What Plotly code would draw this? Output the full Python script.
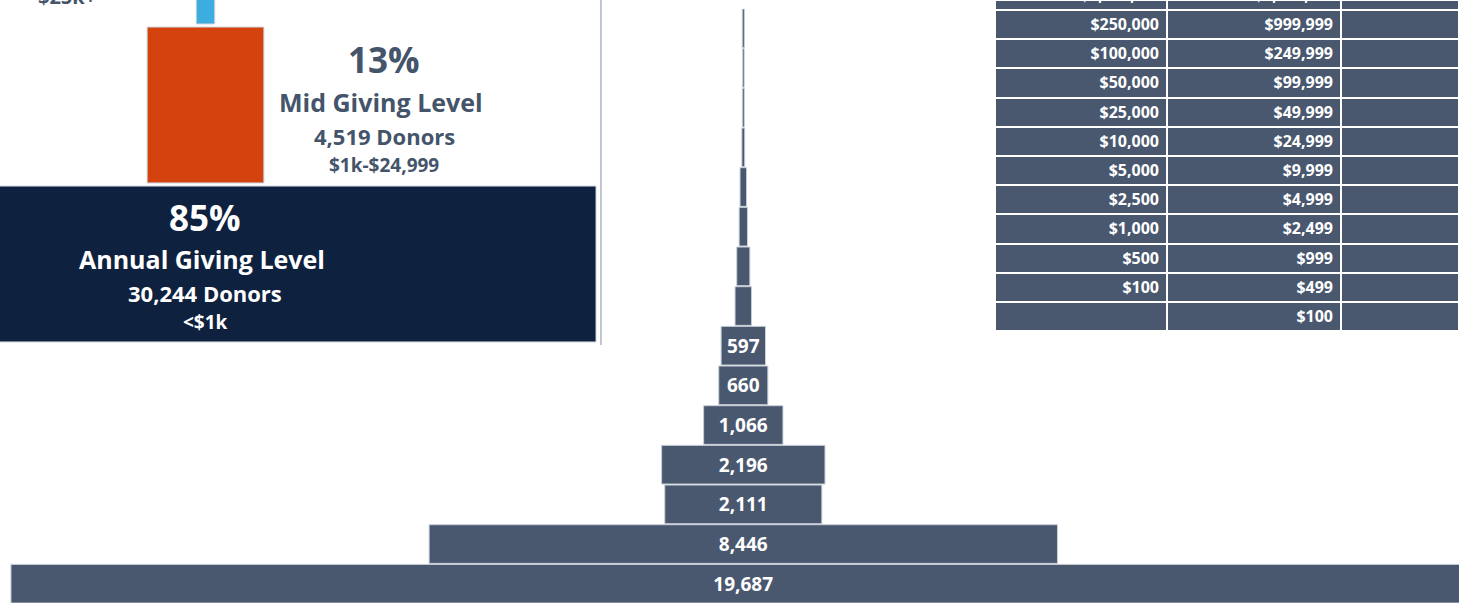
import plotly.graph_objects as go

W, H = 1459, 603

# Donors per gift band, largest gifts first
band_labels = [
    "$25,000,000+", "$10,000,000 - $24,999,999", "$5,000,000 - $9,999,999",
    "$1,000,000 - $4,999,999", "$250,000 - $999,999", "$100,000 - $249,999",
    "$50,000 - $99,999", "$25,000 - $49,999", "$10,000 - $24,999",
    "$5,000 - $9,999", "$2,500 - $4,999", "$1,000 - $2,499",
    "$500 - $999", "$100 - $499", "Under $100",
]
band_donors = [28, 22, 26, 38, 88, 112, 176, 222, 597, 660, 1066, 2196, 2111, 8446, 19687]
band_level = ["major"] * 8 + ["mid"] * 4 + ["annual"] * 3

# Giving levels
level_keys = ["major", "mid", "annual"]
level_names = ["Major Giving Level", "Mid Giving Level", "Annual Giving Level"]
level_ranges = ["$25k+", "$1k-$24,999", "<$1k"]
level_colors = ["#3BAEDF", "#D4430D", "#0E2240"]

# Gift range table
range_low = ["$1,000,000", "$250,000", "$100,000", "$50,000", "$25,000", "$10,000",
             "$5,000", "$2,500", "$1,000", "$500", "$100", ""]
range_high = ["$4,999,999", "$999,999", "$249,999", "$99,999", "$49,999", "$24,999",
              "$9,999", "$4,999", "$2,499", "$999", "$499", "$100"]
range_extra = [""] * len(range_low)

SLATE = "#4A586F"
SLATE_TEXT = "#44546A"
EDGE = "#C9CFD9"
FONT = "Open Sans"

level_donors = [sum(d for d, lv in zip(band_donors, band_level) if lv == k) for k in level_keys]
total = sum(level_donors)
level_pct = [round(100 * d / total) for d in level_donors]
level_y = list(range(len(level_keys)))[::-1]

# Axis geometry: pyramid centred at x=743 px, 0.0744 px per donor
pyr_center, pyr_scale = 743.3, 0.0744
pyr_top, pyr_pitch = 8.5, 39.67
lvl_center, lvl_scale = 205.5, 0.025823
panel_w, panel_h = 600, 345
row_px = 159.0
row0_center = 264.0

# Only label bands wide enough to hold their count
band_text = [f"{v:,}" if v * pyr_scale >= 40 else "" for v in band_donors]


def px_x(p):
    return p / W


def px_y(p):
    return 1 - p / H


fig = go.Figure()

# Donor pyramid
fig.add_trace(go.Funnel(
    y=band_labels, x=band_donors, text=band_text,
    texttemplate="%{text}", textposition="inside",
    textfont=dict(family=FONT, size=19, color="white", weight=700),
    marker=dict(color=SLATE, line=dict(color=EDGE, width=1)),
    connector=dict(visible=False),
    hoverinfo="skip", xaxis="x", yaxis="y",
))

# Giving level blocks
fig.add_trace(go.Funnel(
    y=level_y, x=level_donors, width=0.98,
    textinfo="none",
    marker=dict(color=level_colors, line=dict(color=EDGE, width=1)),
    connector=dict(visible=False),
    hoverinfo="skip", xaxis="x2", yaxis="y2",
))

# Gift range table
fig.add_trace(go.Table(
    domain=dict(x=[995 / W, 1], y=[0.4, 1]),
    columnwidth=[172, 174, 118],
    header=dict(values=["", "", ""], height=10, fill_color=SLATE,
                line=dict(color="white", width=2)),
    cells=dict(values=[range_low[1:], range_high[1:], range_extra[1:]],
               height=29.2, align="right", fill_color=SLATE,
               line=dict(color="white", width=2),
               font=dict(family=FONT, size=16, color="white", weight=700)),
))

annotations = []


def note(text, x, y, size, color, xanchor="center", yanchor="middle"):
    annotations.append(dict(
        text=text, x=px_x(x), y=px_y(y), xref="paper", yref="paper",
        xanchor=xanchor, yanchor=yanchor, showarrow=False,
        font=dict(family=FONT, size=size, color=color, weight=700),
    ))


# Top table row, mostly above the visible area
note(range_low[0], 1164, 8, 16, "white", xanchor="right", yanchor="bottom")
note(range_high[0], 1338, 8, 16, "white", xanchor="right", yanchor="bottom")

# Major level caption
note(level_ranges[0], 67, -3, 20, SLATE_TEXT)

# Mid level caption
note(f"{level_pct[1]}%", 384, 60, 35, SLATE_TEXT)
note(level_names[1], 381, 102, 25, SLATE_TEXT)
note(f"{level_donors[1]:,} Donors", 384, 136, 22, SLATE_TEXT)
note(level_ranges[1], 384, 165, 19, SLATE_TEXT)

# Annual level caption
note(f"{level_pct[2]}%", 205, 217, 35, "white")
note(level_names[2], 202, 259, 25, "white")
note(f"{level_donors[2]:,} Donors", 205, 293, 22, "white")
note(level_ranges[2], 205, 322, 19, "white")

fig.update_layout(
    width=W, height=H,
    margin=dict(l=0, r=0, t=0, b=0),
    paper_bgcolor="white", plot_bgcolor="rgba(0,0,0,0)",
    showlegend=False, funnelgap=0.025,
    xaxis=dict(domain=[0, 1], range=[-pyr_center / pyr_scale, (W - pyr_center) / pyr_scale],
               visible=False, fixedrange=True),
    yaxis=dict(domain=[0, (H - pyr_top) / H], type="category",
               range=[(H - pyr_top) / pyr_pitch - 0.5, -0.5], visible=False, fixedrange=True),
    xaxis2=dict(domain=[0, panel_w / W], anchor="y2",
                range=[-lvl_center / lvl_scale, (panel_w - lvl_center) / lvl_scale],
                showline=True, linecolor="#BFC7D2", linewidth=2,
                showticklabels=False, showgrid=False, zeroline=False, ticks="",
                fixedrange=True),
    yaxis2=dict(domain=[1 - panel_h / H, 1], anchor="x2", side="right", type="linear",
                range=[-(panel_h - row0_center) / row_px, row0_center / row_px],
                showline=True, linecolor="#BFC7D2", linewidth=2,
                showticklabels=False, showgrid=False, zeroline=False, ticks="",
                fixedrange=True),
    annotations=annotations,
)

fig.write_html("out.html")
